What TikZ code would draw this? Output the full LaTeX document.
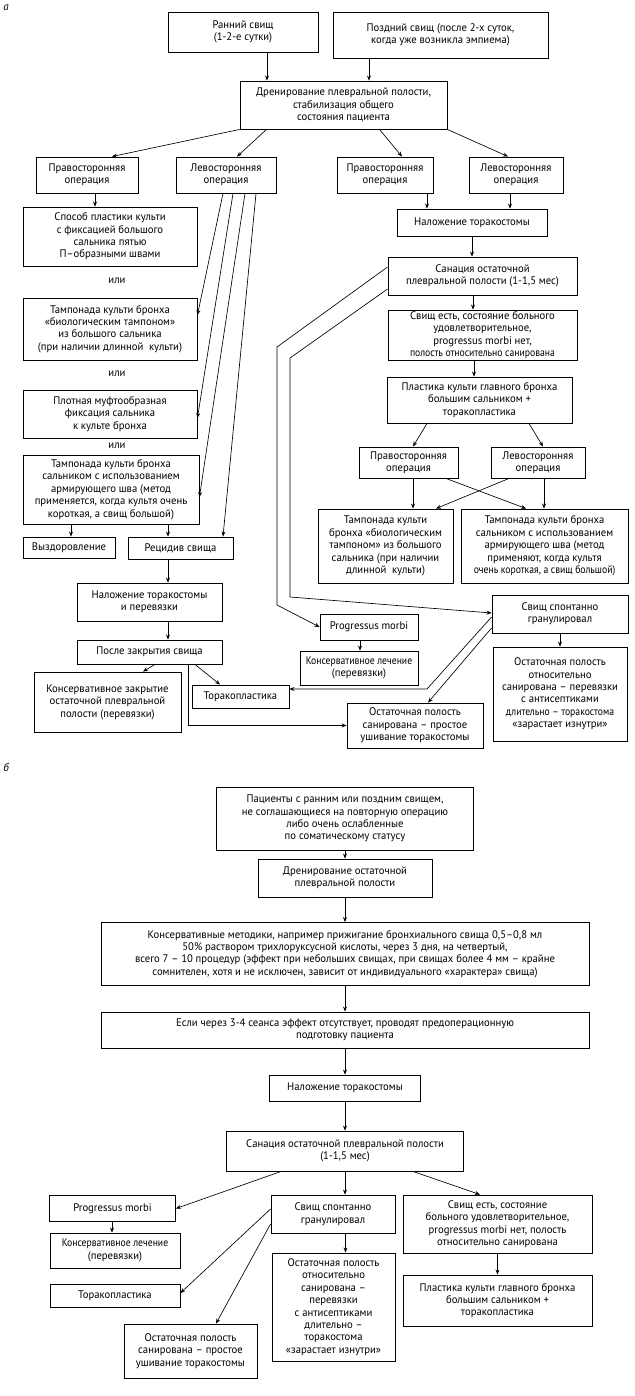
\documentclass[tikz,border=0pt]{standalone}
\usepackage{fontspec}
\setmainfont{PT Sans}
\newfontfamily\boxfont[FakeStretch=0.97]{PT Sans}
\newfontfamily\cond[FakeStretch=0.88]{PT Sans}
\usetikzlibrary{arrows.meta}
\begin{document}
\begin{tikzpicture}[x=1pt,y=-1pt,
  box/.style={draw, line width=0.9pt, inner sep=1pt, align=center, font=\boxfont\fontsize{11}{12.4}\selectfont},
  boxb/.style={box},
  bx/.style 2 args={minimum width=#1pt, minimum height=#2pt},
  arr/.style={-{Stealth[length=5pt,width=4pt]}, line width=0.65pt},
  lbl/.style={font=\boxfont\fontsize{11}{12.4}\selectfont, inner sep=0pt}]
\fill[white] (0,0) rectangle (634,1396);
\useasboundingbox (0,0) rectangle (634,1396);

% ---------------- part a ----------------
\node[lbl, font=\itshape\fontsize{11}{12}\selectfont] (la) at (6,8) {а};
\node[box,bx={150}{40}] (r1) at (243,32) {Ранний свищ\\(1-2-е сутки)};
\node[box,bx={215}{46}] (p1) at (440.5,35) {Поздний свищ (после 2-х суток,\\когда уже возникла эмпиема)};
\node[box,bx={207}{48}] (drn) at (343.5,105) {Дренирование плевральной полости,\\стабилизация общего\\состояния пациента};
\node[box,bx={102}{36}] (prL) at (87,175) {Правосторонняя\\операция};
\node[box,bx={100}{36}] (lvL) at (226,175) {Левосторонняя\\операция};
\node[box,bx={96}{36}] (prR) at (385,175) {Правосторонняя\\операция};
\node[box,bx={94}{36}] (lvR) at (516,175) {Левосторонняя\\операция};
\node[box,bx={174}{59}] (spos) at (110,236.5) {Способ пластики культи\\с фиксацией большого\\сальника пятью\\П–образными швами};
\node[lbl] (ili1) at (117,281) {или};
\node[box,bx={174}{62}] (tmp2) at (110,329) {Тампонада культи бронха\\«биологическим тампоном»\\из большого сальника\\(при наличии длинной\ \ культи)};
\node[lbl] (ili2) at (117,374) {или};
\node[box,bx={174}{48}] (plot) at (110,414) {Плотная муфтообразная\\фиксация сальника\\к культе бронха};
\node[lbl] (ili3) at (117,446) {или};
\node[box,bx={176}{69}] (tmp4) at (111,489.5) {Тампонада культи бронха\\сальником с использованием\\армирующего шва (метод\\применяется, когда культя очень\\короткая, а свищ большой)};
\node[box,bx={92}{21}] (vyz) at (69,547.5) {Выздоровление};
\node[box,bx={105}{22}] (rec) at (180.5,548) {Рецидив свища};
\node[box,bx={145}{38}] (nal2) at (149.5,602) {Наложение торакостомы\\и перевязки};
\node[box,bx={145}{24}] (posle) at (149.5,652) {После закрытия свища};
\node[box,bx={147}{60}] (kzak) at (107.5,702) {Консервативное закрытие\\остаточной плевральной\\полости (перевязки)};
\node[box,bx={97}{23}] (tor) at (240.5,696.5) {Торакопластика};
\node[box,bx={150}{27}] (nal) at (472,222.5) {Наложение торакостомы};
\node[box,bx={189}{38}] (san) at (482.5,276) {Санация остаточной\\плевральной полости (1-1,5 мес)};
\node[box,bx={189}{50}] (svE) at (482.5,335) {Свищ есть, состояние больного\\удовлетворительное,\\progressus morbi нет,\\{\cond полость относительно санирована}};
\node[box,bx={185}{46}] (plas) at (479.5,400) {Пластика культи главного бронха\\большим сальником +\\торакопластика};
\node[box,bx={99}{31}] (prR2) at (408.5,462.5) {Правосторонняя\\операция};
\node[box,bx={94}{31}] (lvR2) at (538,462.5) {Левосторонняя\\операция};
\node[box,bx={135}{74}] (tpL) at (385.5,546) {Тампонада культи\\бронха «биологическим\\тампоном» из большого\\сальника (при наличии\\длинной\ \ культи)};
\node[box,bx={167}{74}] (tpR) at (544.5,546) {Тампонада культи бронха\\сальником с использованием\\армирующего шва (метод\\применяют, когда культя\\{\cond очень короткая, а свищ большой)}};
\node[box,bx={136}{38}] (svS) at (560,614) {Свищ спонтанно\\гранулировал};
\node[box,bx={98}{26}] (prog) at (369,627) {Progressus morbi};
\node[box,bx={118}{34}] (kle) at (359,668) {{\cond Консервативное лечение}\\(перевязки)};
\node[box,bx={134}{94}] (ostO) at (560,694) {Остаточная полость\\относительно\\санирована – перевязки\\с антисептиками\\{\cond длительно – торакостома}\\«зарастает изнутри»};
\node[box,bx={136}{45}] (ostS) at (415,725.5) {Остаточная полость\\санирована – простое\\ушивание торакостомы};

% arrows a
\coordinate (a1) at ([xshift=24pt]r1.south); \draw[arr] (a1) -- (a1 |- drn.north);
\coordinate (a2) at ([xshift=-71.5pt]p1.south); \draw[arr] (a2) -- (a2 |- drn.north);
\draw[arr] (drn.south west) -- ([xshift=25pt]prL.north);
\draw[arr] ([xshift=27pt]drn.south west) -- ([xshift=11pt]lvL.north);
\draw[arr] ([xshift=140pt]drn.south west) -- ([xshift=17pt]prR.north);
\draw[arr] (drn.south east) -- ([xshift=-8pt]lvR.north);
\coordinate (a3) at ([xshift=8pt]prL.south); \draw[arr] (a3) -- (a3 |- spos.north);
\draw[arr] ([xshift=-3pt]lvL.south) -- ([yshift=14pt]tmp2.east);
\draw[arr] ([xshift=7pt]lvL.south) -- ([yshift=-4pt]plot.east);
\draw[arr] ([xshift=19pt]lvL.south) -- ([yshift=-7.5pt]tmp4.east);
\draw[arr] ([xshift=30pt]lvL.south) -- ([xshift=42.5pt]rec.north);
\coordinate (a4) at ([xshift=42pt]prR.south); \draw[arr] (a4) -- (a4 |- nal.north);
\coordinate (a5) at ([xshift=-6pt]lvR.south); \draw[arr] (a5) -- (a5 |- nal.north);
\draw[arr] (nal.south) -- (nal.south |- san.north);
\coordinate (a6) at ([xshift=-9.5pt]san.south); \draw[arr] (a6) -- (a6 |- svE.north);
\coordinate (a7) at ([xshift=-8.5pt]svE.south); \draw[arr] (a7) -- (a7 |- plas.north);
\draw[arr] ([xshift=-52.5pt]plas.south) -- ([xshift=4.5pt]prR2.north);
\draw[arr] ([xshift=49.5pt]plas.south) -- ([xshift=5pt]lvR2.north);
\coordinate (a8) at ([xshift=4.5pt]prR2.south); \draw[arr] (a8) -- (a8 |- tpL.north);
\coordinate (a9) at ([xshift=6pt]lvR2.south); \draw[arr] (a9) -- (a9 |- tpR.north);
\draw[arr] ([xshift=37.5pt]prR2.south) -- ([xshift=-18.5pt]tpR.north);
\draw[arr] ([xshift=-29pt]lvR2.south) -- ([xshift=50.5pt]tpL.north);
\coordinate (o1) at (277,347); \coordinate (o2) at (277,605);
\draw[arr] ([yshift=9pt]san.west) -- (o1) -- (o2) -- (prog.west);
\coordinate (i1) at (290,358); \coordinate (i2) at (290,597);
\draw[arr] ([yshift=-13pt]san.west) -- (i1) -- (i2) -- ([yshift=1pt]svS.west);
\coordinate (a10) at ([xshift=2pt]vyz.north); \draw[arr] (a10 |- tmp4.south) -- (a10);
\coordinate (a11) at ([xshift=-12.5pt]rec.north); \draw[arr] (a11 |- tmp4.south) -- (a11);
\coordinate (a12) at ([xshift=-12.5pt]rec.south); \draw[arr] (a12) -- (a12 |- nal2.north);
\coordinate (a13) at ([xshift=18.5pt]nal2.south); \draw[arr] (a13) -- (a13 |- posle.north);
\draw[arr] ([xshift=5.5pt]posle.south) -- ([xshift=35.5pt]kzak.north);
\draw[arr] ([xshift=45.5pt]posle.south) -- ([xshift=-20.5pt]tor.north);
\draw[arr] ([xshift=38.5pt]posle.south) |- (ostS.west);
\coordinate (a14) at ([xshift=-9pt]prog.south); \draw[arr] (a14) -- (a14 |- kle.north);
\draw[arr] (svS.south) -- (ostO.north);
\coordinate (t1) at (427,689);
\draw[arr] ([yshift=-3pt]svS.west) -- (t1) -- (t1 -| tor.east);
\draw[arr] ([yshift=-14pt]svS.west) -- ([xshift=13pt]ostS.north);

% ---------------- part b ----------------
\node[lbl, font=\itshape\fontsize{11}{12}\selectfont] (lb) at (6,768) {б};
\node[boxb,bx={257}{63}] (pac) at (345,818.5) {Пациенты с ранним или поздним свищем,\\не соглашающиеся на повторную операцию\\либо очень ослабленные\\по соматическому статусу};
\node[boxb,bx={174}{38}] (drnB) at (345,878) {Дренирование остаточной\\плевральной полости};
\node[boxb,bx={488}{63}] (kons) at (345,954) {Консервативные методики, например прижигание бронхиального свища 0,5–0,8 мл\\50\% раствором трихлоруксусной кислоты, через 3 дня, на четвертый,\\всего 7 – 10 процедур (эффект при небольших свищах, при свищах более 4 мм – крайне\\сомнителен, хотя и не исключен, зависит от индивидуального «характера» свища)};
\node[boxb,bx={488}{36}] (esli) at (345,1030) {Если через 3-4 сеанса эффект отсутствует, проводят предоперационную\\подготовку пациента};
\node[boxb,bx={151}{26}] (nalB) at (345,1088) {Наложение торакостомы};
\node[boxb,bx={237}{40}] (sanB) at (345,1151) {Санация остаточной плевральной полости\\(1-1,5 мес)};
\node[boxb,bx={126}{26}] (progB) at (112.5,1208.5) {Progressus morbi};
\node[boxb,bx={130}{35}] (kleB) at (115,1250.5) {{\cond Консервативное лечение}\\(перевязки)};
\node[boxb,bx={130}{23}] (torB) at (115,1295.5) {Торакопластика};
\node[boxb,bx={133}{54}] (ostSB) at (190.5,1351) {Остаточная полость\\санирована – простое\\ушивание торакостомы};
\node[boxb,bx={124}{38}] (svSB) at (333,1214) {Свищ спонтанно\\гранулировал};
\node[boxb,bx={123}{108}] (ostOB) at (333.5,1307) {Остаточная полость\\относительно\\санирована –\\перевязки\\с антисептиками\\длительно –\\торакостома\\«зарастает изнутри»};
\node[boxb,bx={189}{58}] (svEB) at (497.5,1224) {Свищ есть, состояние\\больного удовлетворительное,\\progressus morbi нет, полость\\относительно санирована};
\node[boxb,bx={189}{51}] (plasB) at (497.5,1300.5) {Пластика культи главного бронха\\большим сальником +\\торакопластика};

% arrows b
\draw[arr] (pac.south) -- (drnB.north);
\draw[arr] (drnB.south) -- (kons.north);
\draw[arr] (kons.south) -- (esli.north);
\draw[arr] (esli.south) -- (nalB.north);
\draw[arr] (nalB.south) -- (sanB.north);
\draw[arr] ([xshift=-64pt]sanB.south) -- (progB.east);
\draw[arr] (sanB.south) -- (sanB.south |- svSB.north);
\draw[arr] ([xshift=68pt]sanB.south) -- ([xshift=-17.5pt]svEB.north);
\coordinate (b1) at ([xshift=-0.5pt]progB.south); \draw[arr] (b1) -- (b1 |- kleB.north);
\draw[arr] ([yshift=5pt]svSB.west) -- ([yshift=2.5pt]torB.east);
\draw[arr] ([yshift=-10pt]svSB.west) -- ([xshift=25.5pt]ostSB.north);
\coordinate (b2) at ([xshift=12.5pt]svSB.south); \draw[arr] (b2) -- (b2 |- ostOB.north);
\draw[arr] (svEB.south) -- (plasB.north);
\end{tikzpicture}
\end{document}
